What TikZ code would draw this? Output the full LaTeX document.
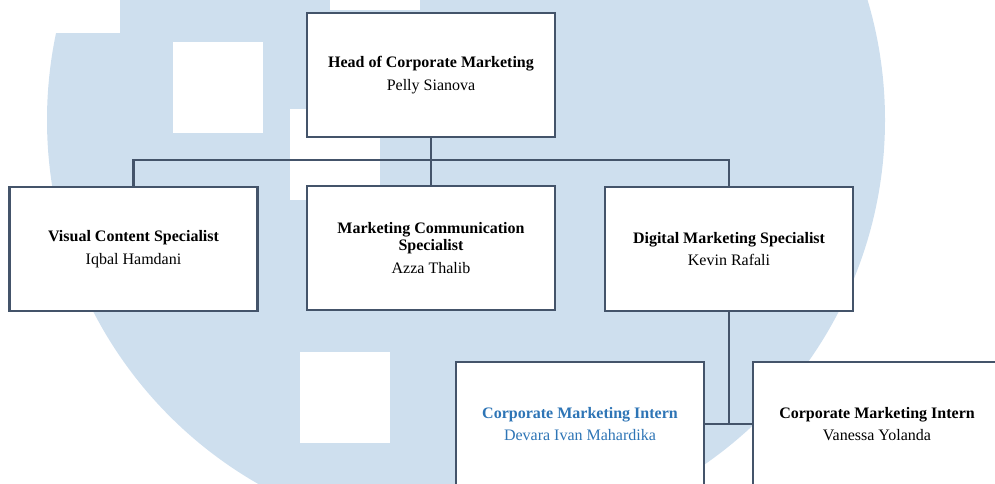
\documentclass[tikz,border=0pt]{standalone}
\usepackage{fontspec}
\setmainfont{Liberation Serif}
\definecolor{umnblue}{HTML}{CEDFEE}
\definecolor{garisbox}{HTML}{44546A}
\definecolor{teksintern}{HTML}{2E75B6}

\begin{document}
\begin{tikzpicture}[x=0.75pt,y=-0.75pt,
	jabatan/.style={draw=garisbox,line width=2.2pt,fill=white,minimum width=186pt,minimum height=93pt,align=center,inner sep=2pt,font=\fontsize{12}{13}\selectfont},
	garis/.style={draw=garisbox,line width=2.2pt}]
	\clip (0,0) rectangle (995,483);
	\fill[umnblue] (466,120) circle (314.25pt);
	\fill[white] (30,-57) rectangle (120,33);
	\fill[white] (330,-80) rectangle (420,10);
	\fill[white] (173,42) rectangle (263,133);
	\fill[white] (290,109) rectangle (380,200);
	\fill[white] (300,352) rectangle (390,443);
	
	\node[jabatan] (head) at (431,75) {\textbf{Head of Corporate Marketing}\\[4pt] Pelly Sianova};
	\node[jabatan] (visual) at (133.5,249) {\textbf{Visual Content Specialist}\\[4pt] Iqbal Hamdani};
	\node[jabatan] (marcom) at (431,248) {\textbf{Marketing Communication}\\ \textbf{Specialist}\\[4pt] Azza Thalib};
	\node[jabatan] (digital) at (729,249) {\textbf{Digital Marketing Specialist}\\[4pt] Kevin Rafali};
	\node[jabatan,text=teksintern] (intern1) at (580,424) {\textbf{Corporate Marketing Intern}\\[4pt] Devara Ivan Mahardika};
	\node[jabatan] (intern2) at (877,424) {\textbf{Corporate Marketing Intern}\\[4pt] Vanessa Yolanda};
	
	\coordinate (bus) at (431,160);
	\draw[garis] (head.south) -- (marcom.north);
	\draw[garis] (visual.north) |- (bus) -| (digital.north);
	\draw[garis] (intern1.east) -- (intern2.west);
	\draw[garis] (digital.south) -- (digital.south |- intern1.east);
\end{tikzpicture}
\end{document}
